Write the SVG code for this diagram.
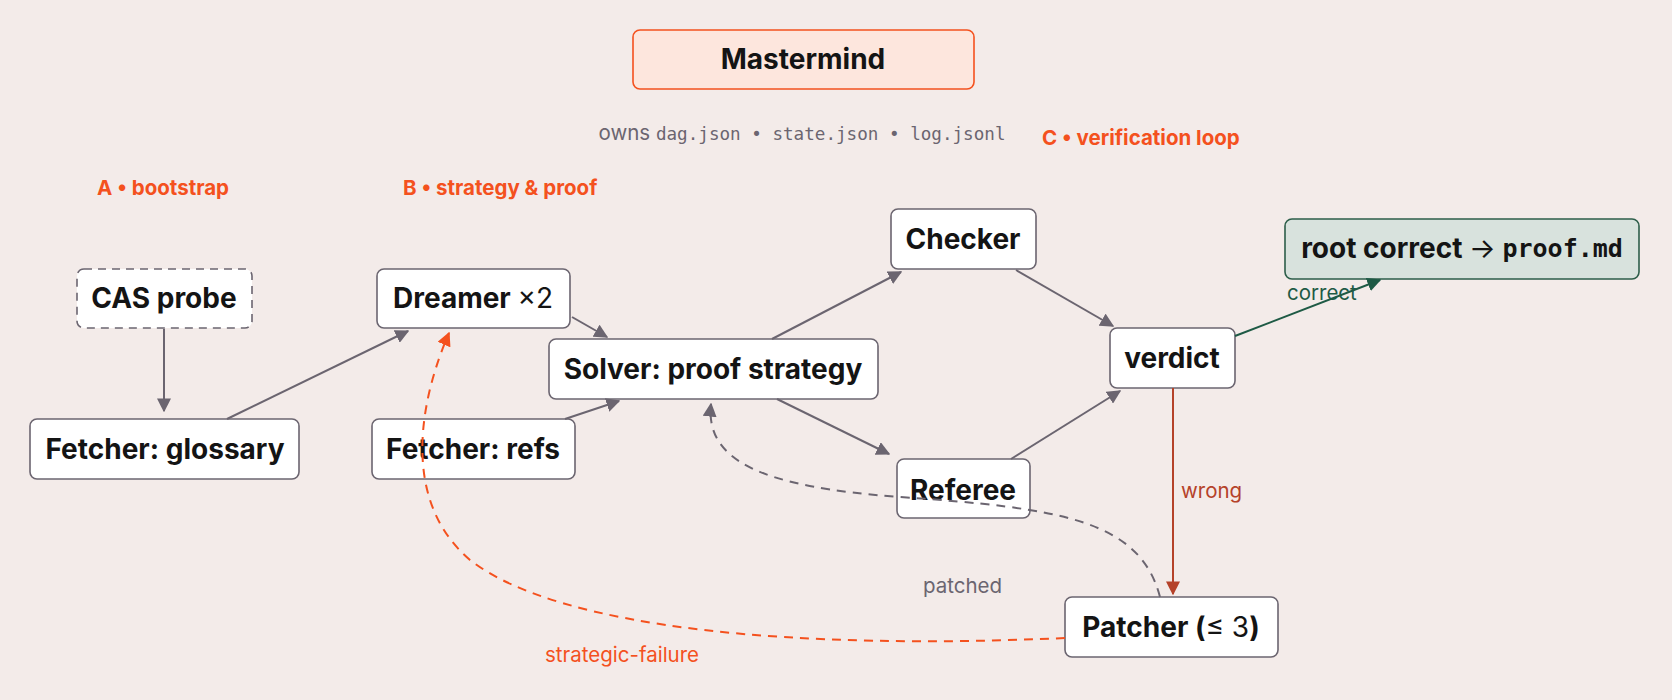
<svg xmlns="http://www.w3.org/2000/svg" width="1672" height="700" viewBox="0 0 1672 700">
<style>
.n{fill:#fff;stroke:#6b6570;stroke-width:1.6}
.t{font-family:Inter,"Liberation Sans",sans-serif;font-weight:700;font-size:28px;fill:#141414;text-anchor:middle;dominant-baseline:central}
.sec{font-family:Inter,"Liberation Sans",sans-serif;font-weight:700;font-size:20.5px;fill:#f4511e}
.lbl{font-family:Inter,"Liberation Sans",sans-serif;font-size:20.5px}
.mono{font-family:"DejaVu Sans Mono","Liberation Mono",monospace;font-size:17.6px;fill:#6b6570}
.e{fill:none;stroke:#6b6570;stroke-width:2}
</style>
<defs>
<marker id="ag" viewBox="0 0 10 10" refX="9" refY="5" markerWidth="7" markerHeight="7" orient="auto-start-reverse"><path d="M0,0L10,5L0,10z" fill="#6b6570"/></marker>
<marker id="agr" viewBox="0 0 10 10" refX="9" refY="5" markerWidth="7" markerHeight="7" orient="auto-start-reverse"><path d="M0,0L10,5L0,10z" fill="#1e5a45"/></marker>
<marker id="ar" viewBox="0 0 10 10" refX="9" refY="5" markerWidth="7" markerHeight="7" orient="auto-start-reverse"><path d="M0,0L10,5L0,10z" fill="#b5422a"/></marker>
<marker id="ao" viewBox="0 0 10 10" refX="9" refY="5" markerWidth="7" markerHeight="7" orient="auto-start-reverse"><path d="M0,0L10,5L0,10z" fill="#f4511e"/></marker>
</defs>
<rect width="1672" height="700" fill="#f3ebe9"/>
<text class="sec" x="97" y="195">A • bootstrap</text>
<text class="sec" x="403" y="195">B • strategy &amp; proof</text>
<text class="sec" x="1042" y="145">C • verification loop</text>
<text x="802" y="140" text-anchor="middle"><tspan class="lbl" fill="#6b6570" font-size="21">owns </tspan><tspan class="mono">dag.json • state.json • log.jsonl</tspan></text>
<g id="mastermind"><rect x="633" y="30" width="341" height="59" rx="7" fill="#fde6dd" stroke="#f4511e" stroke-width="1.6"/><text class="t" x="803" y="59">Mastermind</text></g>
<g id="cas"><rect x="77" y="269" width="175" height="59" rx="7" class="n" stroke-dasharray="8,6"/><text class="t" x="164" y="298">CAS probe</text></g>
<g id="fglossary"><rect x="30" y="419" width="269" height="60" rx="7" class="n" stroke="#141414"/><text class="t" x="165" y="449">Fetcher: glossary</text></g>
<g id="dreamer"><rect x="377" y="269" width="193" height="59" rx="7" class="n" stroke="#141414"/><text class="t" x="473" y="298">Dreamer <tspan font-weight="400">×2</tspan></text></g>
<g id="frefs"><rect x="372" y="419" width="203" height="60" rx="7" class="n" stroke="#141414"/><text class="t" x="473" y="449">Fetcher: refs</text></g>
<g id="solver"><rect x="549" y="339" width="329" height="60" rx="7" class="n" stroke="#2d5e4a"/><text class="t" x="713" y="369">Solver: proof strategy</text></g>
<g id="checker"><rect x="891" y="209" width="145" height="60" rx="7" class="n" stroke="#2d5e4a"/><text class="t" x="963" y="239">Checker</text></g>
<g id="referee"><rect x="897" y="459" width="133" height="59" rx="7" class="n" stroke="#c0472c"/><text class="t" x="963" y="490">Referee</text></g>
<g id="verdict"><rect x="1110" y="328" width="125" height="60" rx="7" class="n"/><text class="t" x="1172" y="358">verdict</text></g>
<g id="root"><rect x="1285" y="219" width="354" height="60" rx="7" fill="#d8e2dd" stroke="#2d5e4a" stroke-width="1.6"/><text class="t" x="1462" y="248">root correct <tspan font-weight="400">→</tspan> <tspan font-family="'DejaVu Sans Mono','Liberation Mono',monospace" font-size="25">proof.md</tspan></text></g>
<g id="patcher"><rect x="1065" y="597" width="213" height="60" rx="7" class="n" stroke="#c0472c"/><text class="t" x="1171" y="627">Patcher (<tspan font-weight="400">≤ 3</tspan>)</text></g>
<g id="connectors">
<path class="e" d="M164,329V411" marker-end="url(#ag)"/>
<path class="e" d="M227,419L408,331" marker-end="url(#ag)"/>
<path class="e" d="M572,317L607,337" marker-end="url(#ag)"/>
<path class="e" d="M565,419L619,401" marker-end="url(#ag)"/>
<path class="e" d="M772,339L901,272" marker-end="url(#ag)"/>
<path class="e" d="M1016,270L1113,326" marker-end="url(#ag)"/>
<path class="e" d="M777,399L889,454" marker-end="url(#ag)"/>
<path class="e" d="M1011,459L1120,391" marker-end="url(#ag)"/>
<path d="M1235,336L1380,280" fill="none" stroke="#1e5a45" stroke-width="2" marker-end="url(#agr)"/>
<path d="M1173,388V594" fill="none" stroke="#b5422a" stroke-width="2" marker-end="url(#ar)"/>
<path class="e" stroke-dasharray="9,7" d="M1160,597C1140,520 1060,508 900,497C760,487 705,460 711,404" marker-end="url(#ag)"/>
<path fill="none" stroke="#f4511e" stroke-width="2" stroke-dasharray="9,7" d="M1065,638C800,650 560,630 470,560C400,500 420,400 449,333" marker-end="url(#ao)"/>
<text class="lbl" x="1287" y="300" fill="#1e5a45">correct</text>
<text class="lbl" x="1181" y="498" fill="#b5422a">wrong</text>
<text class="lbl" x="923" y="593" fill="#6b6570">patched</text>
<text class="lbl" x="545" y="662" fill="#f4511e">strategic-failure</text>
</g>
</svg>
